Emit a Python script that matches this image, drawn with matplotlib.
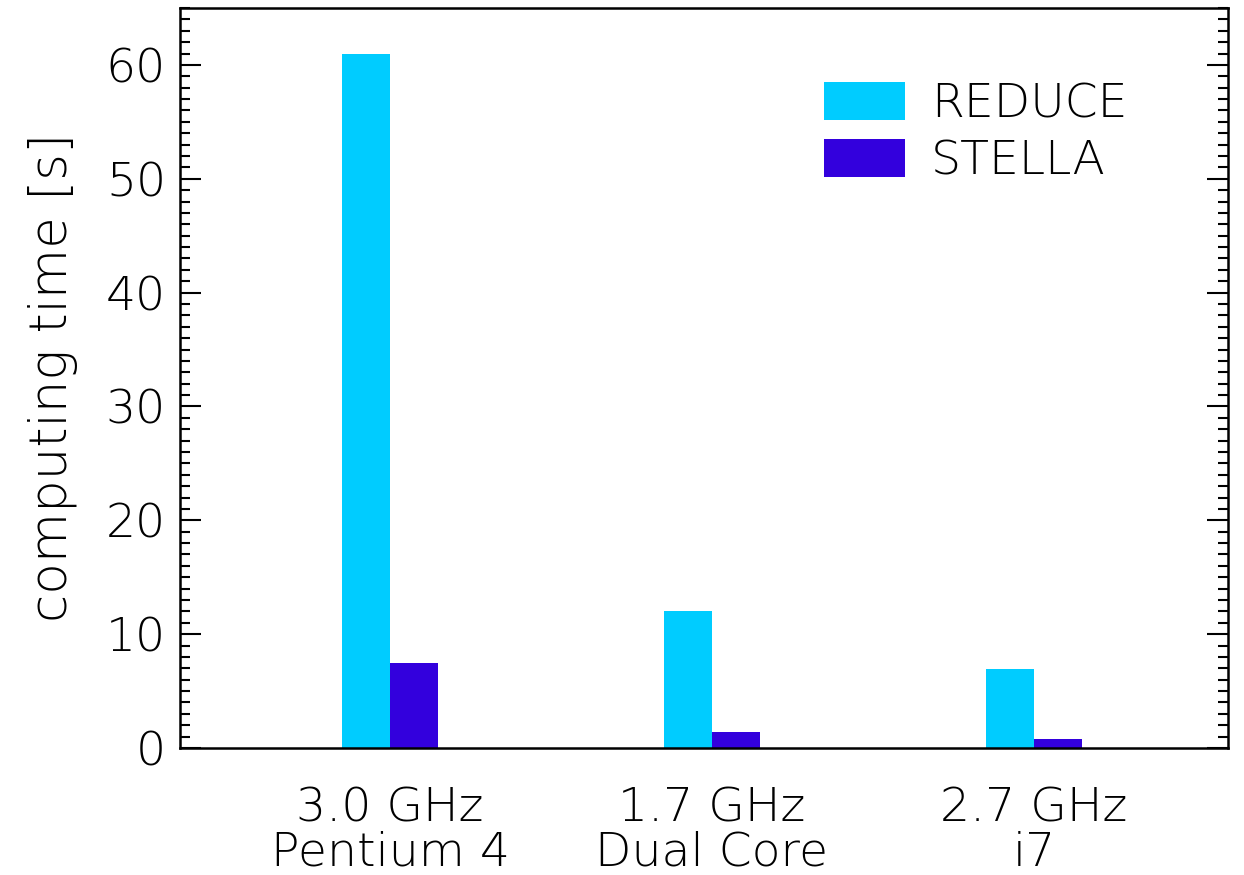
import matplotlib
matplotlib.use("Agg")
import matplotlib.pyplot as plt
from matplotlib.ticker import MultipleLocator
import numpy as np

categories = ["3.0 GHz\nPentium 4", "1.7 GHz\nDual Core", "2.7 GHz\ni7"]
reduce_vals = [61.0, 12.0, 6.9]
stella_vals = [7.5, 1.4, 0.8]
series_names = ["REDUCE", "STELLA"]

plt.rcParams['font.family'] = ['DejaVu Sans']
plt.rcParams['font.weight'] = 200
plt.rcParams['axes.labelweight'] = 200
FS = 34

fig = plt.figure(figsize=(12.44, 8.75), dpi=100)
ax = fig.add_axes([0.1447, 0.1451, 0.987 - 0.1447, 0.9909 - 0.1451])

x = np.arange(len(categories))
w = 0.15
ax.bar(x - w/2, reduce_vals, width=w, color='#00CCFF', label=series_names[0], linewidth=0)
ax.bar(x + w/2, stella_vals, width=w, color='#3300DD', label=series_names[1], linewidth=0)

ax.set_xlim(-0.652, 2.602)
ax.set_ylim(0, 65)
ax.set_xticks(x)
ax.set_xticklabels(categories, fontsize=FS, linespacing=1.0, fontweight=200)
ax.tick_params(axis='x', length=0, pad=28)
ax.yaxis.set_major_locator(MultipleLocator(10))
ax.yaxis.set_minor_locator(MultipleLocator(1))
ax.tick_params(axis='y', which='major', direction='in', length=15, width=1.5, labelsize=FS, right=True, pad=10)
ax.tick_params(axis='y', which='minor', direction='in', length=7.5, width=1.5, right=True)
for s in ax.spines.values():
    s.set_linewidth(1.8)
ax.set_ylabel("computing time [s]", fontsize=37, labelpad=20, fontweight=200)

ax.legend(loc='upper left', bbox_to_anchor=(0.597, 0.925), frameon=False, prop={'size': FS, 'weight': 200},
          handlelength=1.7, handleheight=0.85, handletextpad=0.55, labelspacing=0.27,
          borderaxespad=0)

fig.savefig("out.png", dpi=100)
